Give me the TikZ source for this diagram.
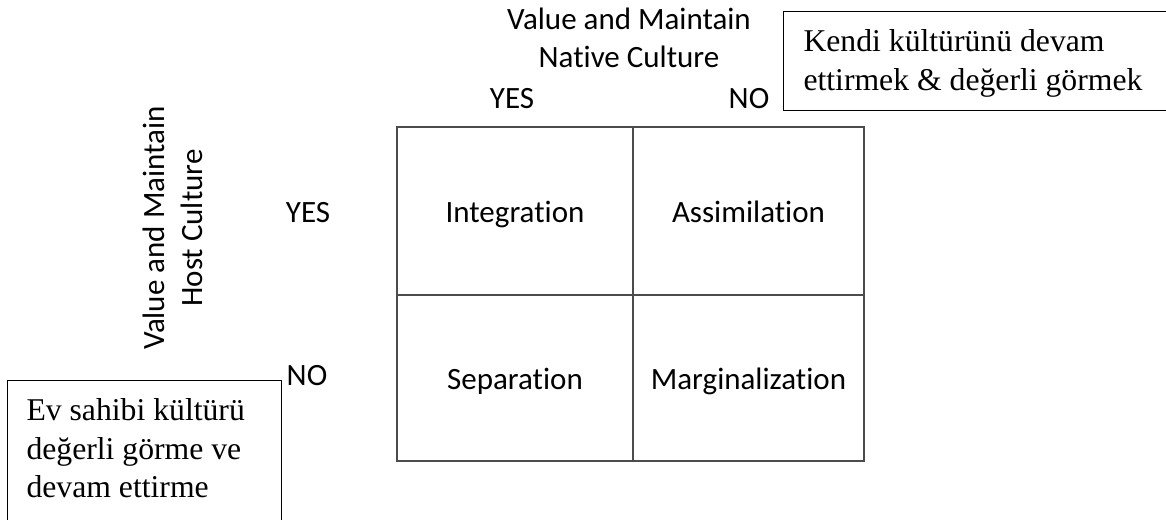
\documentclass[tikz,border=0pt]{standalone}
\usepackage{fontspec}
\setmainfont{Liberation Serif}
\setsansfont{Carlito}[Ligatures={NoCommon,NoContextual}]
\begin{document}
\begin{tikzpicture}[
        x=1pt, y=-1pt, % y grows downward
        cell/.style={draw=black!70, line width=1.3pt, minimum width=236pt, minimum height=168pt, inner sep=0pt, text height=22pt, text depth=0pt, font=\sffamily\fontsize{31}{38}\selectfont},
        lbl/.style={font=\sffamily\fontsize{31}{38}\selectfont, align=center, inner sep=0pt}, % axis labels
        note/.style={draw, line width=1pt, align=flush left, anchor=north west, inner ysep=0pt, text height=40pt, font=\fontsize{31.7}{38.7}\selectfont},
    ]
    \useasboundingbox (0,0) rectangle (1166,519);

    % 2x2 table
    \node[cell] (integ) at (515,211) {Integration};
    \node[cell, minimum width=231pt] (assim) at (748.5,211) {Assimilation};
    \node[cell, minimum height=166pt] (separ) at (515,378) {Separation};
    \node[cell, minimum width=231pt, minimum height=166pt] (margin) at (748.5,378) {Marginalization};

    % axes
    \node[lbl] (nataxis) at (629,38) {Value and Maintain\\Native Culture};
    \node[lbl, anchor=base] (natyes) at (512,108) {YES};
    \node[lbl, anchor=base] (natno) at (749,108) {NO};
    \node[lbl, rotate=90] (hostaxis) at (172.5,228) {Value and Maintain\\Host Culture};
    \node[lbl, anchor=base] (hostyes) at (308,222) {YES};
    \node[lbl, anchor=base] (hostno) at (307,385) {NO};

    % notes
    \node[note, text width=380pt, inner xsep=20pt, text depth=59pt] (nativenote) at (783,11) {Kendi kültürünü devam\\ettirmek \& değerli görmek};
    \node[note, text width=236pt, inner xsep=19pt, text depth=120pt] (hostnote) at (7,380) {Ev sahibi kültürü\\değerli görme ve\\devam ettirme};

\end{tikzpicture}
\end{document}
